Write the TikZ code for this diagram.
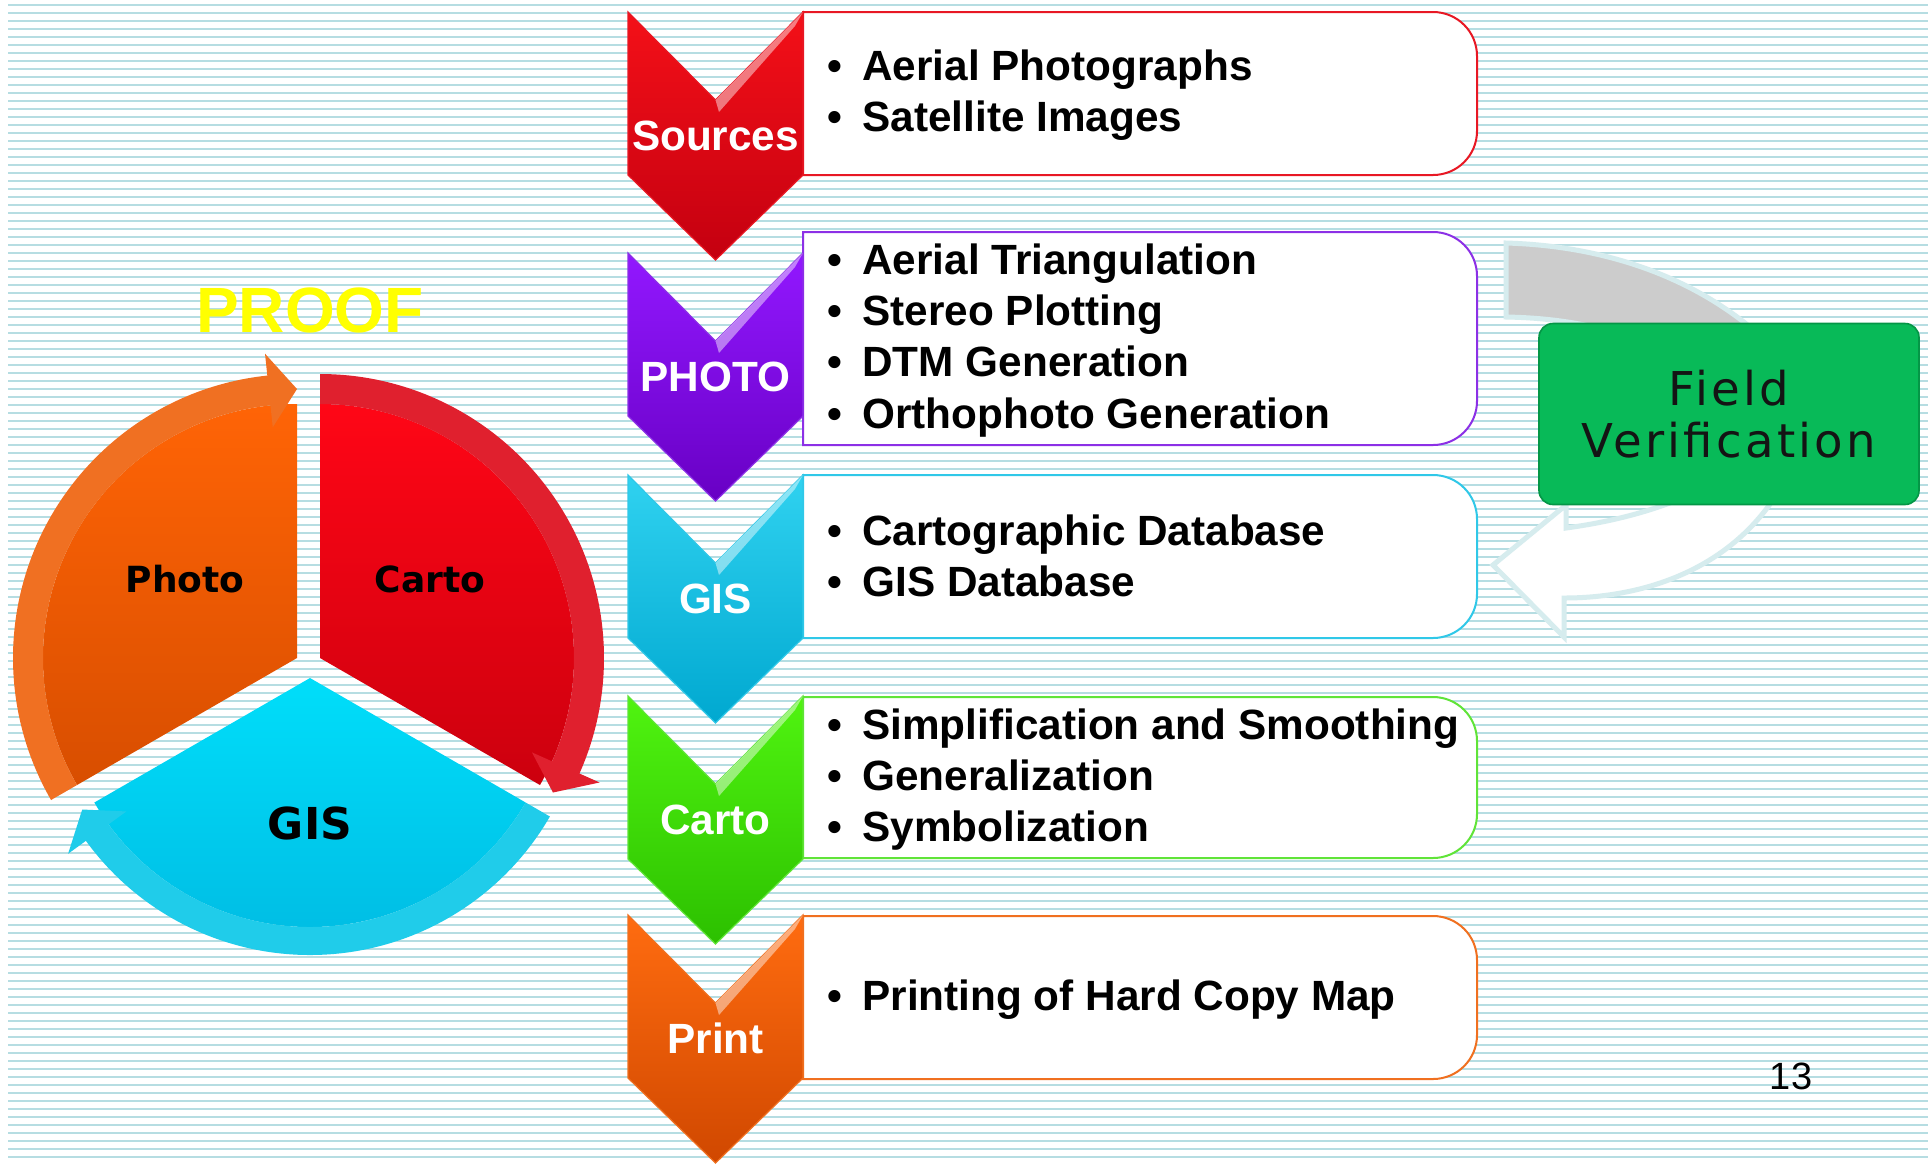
\documentclass[tikz,border=0pt]{standalone}
\usepackage{fontspec}
\setmainfont{Liberation Sans}
\newfontfamily\dejavu{DejaVu Sans}
\newfontfamily\fieldfont[LetterSpace=7]{DejaVu Sans}

\definecolor{rulecyan}{RGB}{182,221,226}
\definecolor{proofyellow}{RGB}{255,255,0}
% chevron colours: top, bottom, line
\definecolor{srcA}{RGB}{244,16,24}
\definecolor{srcB}{RGB}{196,0,16}
\definecolor{srcL}{RGB}{232,24,36}
\definecolor{phoA}{RGB}{146,24,255}
\definecolor{phoB}{RGB}{104,0,196}
\definecolor{phoL}{RGB}{140,48,230}
\definecolor{gisA}{RGB}{48,210,240}
\definecolor{gisB}{RGB}{0,168,208}
\definecolor{gisL}{RGB}{48,200,232}
\definecolor{carA}{RGB}{80,244,16}
\definecolor{carB}{RGB}{44,192,0}
\definecolor{carL}{RGB}{96,228,56}
\definecolor{prtA}{RGB}{255,108,16}
\definecolor{prtB}{RGB}{208,72,0}
\definecolor{prtL}{RGB}{240,112,32}
% pie colours
\definecolor{photoA}{RGB}{255,100,6}
\definecolor{photoB}{RGB}{216,78,0}
\definecolor{photoBand}{RGB}{240,112,34}
\definecolor{cartoA}{RGB}{255,6,22}
\definecolor{cartoB}{RGB}{204,0,14}
\definecolor{cartoBand}{RGB}{224,32,46}
\definecolor{gisinA}{RGB}{0,222,250}
\definecolor{gisinB}{RGB}{0,186,226}
\definecolor{gisBand}{RGB}{32,204,234}
% field verification
\definecolor{fieldgreen}{RGB}{8,186,88}
\definecolor{fieldedge}{RGB}{4,150,70}
\definecolor{loopgray}{RGB}{204,204,204}
\definecolor{loopedge}{RGB}{214,236,238}

\tikzset{
  item/.style={anchor=base west, inner sep=0pt, font=\fontsize{21.15}{25}\selectfont\bfseries},
  chevtext/.style={anchor=base, inner sep=0pt, text=white, font=\fontsize{21.15}{25}\selectfont\bfseries},
  pietext/.style={inner sep=0pt, font=\dejavu\bfseries\fontsize{18}{22}\selectfont},
  fieldbox/.style={draw=fieldedge, line width=0.8pt, fill=fieldgreen, rounded corners=7pt,
    minimum width=190pt, minimum height=90.5pt, inner sep=0pt, align=center,
    text={rgb,255:red,20;green,20;blue,20}, font=\fieldfont\fontsize{23.3}{26}\selectfont},
}
\newcommand{\bul}{\makebox[17.5pt][l]{\textbullet}}

\begin{document}
\begin{tikzpicture}[x=0.5pt, y=0.5pt]
  \useasboundingbox (0,0) rectangle (1931,-1164);
  \fill[white] (0,0) rectangle (1931,-1164);
  % ruled background
  \foreach \k in {0,...,144}
    \draw[line width=1.25pt, rulecyan] (8,{-5-8*\k}) -- (1928,{-5-8*\k});

  % PROOF cycle
  \node[anchor=base, text=proofyellow, font=\bfseries\fontsize{32}{36}\selectfont] (proof) at (310,-332) {PROOF};
  \begin{scope}[shift={(297,-658)}]
    \shade[top color=photoA, bottom color=photoB] (0,0) -- (210:254) arc[start angle=210, end angle=90, radius=254] -- cycle;
    \fill[photoBand] (210:254) -- (210:284) arc[start angle=210, end angle=96, radius=284]
      -- (96:306) -- (90:269) -- (96:232) -- (96:254) arc[start angle=96, end angle=210, radius=254] -- cycle;
  \end{scope}
  \begin{scope}[shift={(320,-658)}]
    \shade[top color=cartoA, bottom color=cartoB] (0,0) -- (90:254) arc[start angle=90, end angle=-30, radius=254] -- cycle;
    \fill[cartoBand] (90:254) -- (90:284) arc[start angle=90, end angle=-24, radius=284]
      -- (-24:306) -- (-30:269) -- (-24:232) -- (-24:254) arc[start angle=-24, end angle=90, radius=254] -- cycle;
  \end{scope}
  \begin{scope}[shift={(310,-678)}]
    \shade[top color=gisinA, bottom color=gisinB] (0,0) -- (-30:249) arc[start angle=-30, end angle=-150, radius=249] -- cycle;
    \fill[gisBand] (-30:249) -- (-30:277) arc[start angle=-30, end angle=-144, radius=277]
      -- (-144:299) -- (-150:263) -- (-144:227) -- (-144:249) arc[start angle=-144, end angle=-30, radius=249] -- cycle;
  \end{scope}
  \node[pietext] (photo) at (185,-579) {Photo};
  \node[pietext] (carto) at (430,-579) {Carto};
  \node[pietext, font=\dejavu\bfseries\fontsize{22}{26}\selectfont] (gis) at (310,-823) {GIS};

  % chevron list
  \foreach \yt/\bt/\bb/\cA/\cB/\cL/\lab/\nm in {
      12/12/175/srcA/srcB/srcL/Sources/src,
      253/232/445/phoA/phoB/phoL/PHOTO/pho,
      475/475/638/gisA/gisB/gisL/GIS/gis,
      696/697/858/carA/carB/carL/Carto/car,
      915/916/1079/prtA/prtB/prtL/Print/prt}
  {
    \draw[\cL, line width=1pt, fill=white] (803,-\bt) [rounded corners=22] -- (1477,-\bt)
      -- (1477,-\bb) [sharp corners] -- (803,-\bb) -- cycle;
    \shadedraw[top color=\cA, bottom color=\cB, draw=\cL, line width=0.6pt]
      (628,-\yt) -- (715.5,{-\yt-88}) -- (803,-\yt) -- (803,{-\yt-163})
      -- (715.5,{-\yt-248}) -- (628,{-\yt-163}) -- cycle;
    \fill[white, opacity=0.45] (715.5,{-\yt-88}) -- (803,-\yt) -- (795,{-\yt-14}) -- (719,{-\yt-100}) -- cycle;
    \node[chevtext] (\nm) at (715.5,{-\yt-138}) {\lab};
  }

  \node[item] (src1) at (827,-80) {\bul Aerial Photographs};
  \node[item] (src2) at (827,-131) {\bul Satellite Images};
  \node[item] (pho1) at (827,-274) {\bul Aerial Triangulation};
  \node[item] (pho2) at (827,-325) {\bul Stereo Plotting};
  \node[item] (pho3) at (827,-376) {\bul DTM Generation};
  \node[item] (pho4) at (827,-428) {\bul Orthophoto Generation};
  \node[item] (gis1) at (827,-545) {\bul Cartographic Database};
  \node[item] (gis2) at (827,-596) {\bul GIS Database};
  \node[item] (car1) at (827,-739) {\bul Simplification and Smoothing};
  \node[item] (car2) at (827,-790) {\bul Generalization};
  \node[item] (car3) at (827,-841) {\bul Symbolization};
  \node[item] (prt1) at (827,-1010) {\bul Printing of Hard Copy Map};

  % loop arrow behind field verification
  \filldraw[fill=loopgray, draw=loopedge, line width=2.5pt] (1506,-243)
    .. controls (1610,-246) and (1700,-280) .. (1765,-340) -- (1660,-345)
    .. controls (1600,-326) and (1560,-318) .. (1506,-317) -- cycle;
  \filldraw[fill=white, draw=loopedge, line width=2.5pt] (1790,-470)
    .. controls (1745,-565) and (1650,-598) .. (1564,-598) -- (1564,-637) -- (1493,-565)
    -- (1566,-505) -- (1566,-528) .. controls (1610,-522) and (1650,-512) .. (1690,-495) -- cycle;
  \node[fieldbox] (field) at (1729,-414) {Field\\Verification};

  \node[anchor=base, font=\fontsize{19}{22}\selectfont] (pagenum) at (1791,-1089) {13};
\end{tikzpicture}
\end{document}
